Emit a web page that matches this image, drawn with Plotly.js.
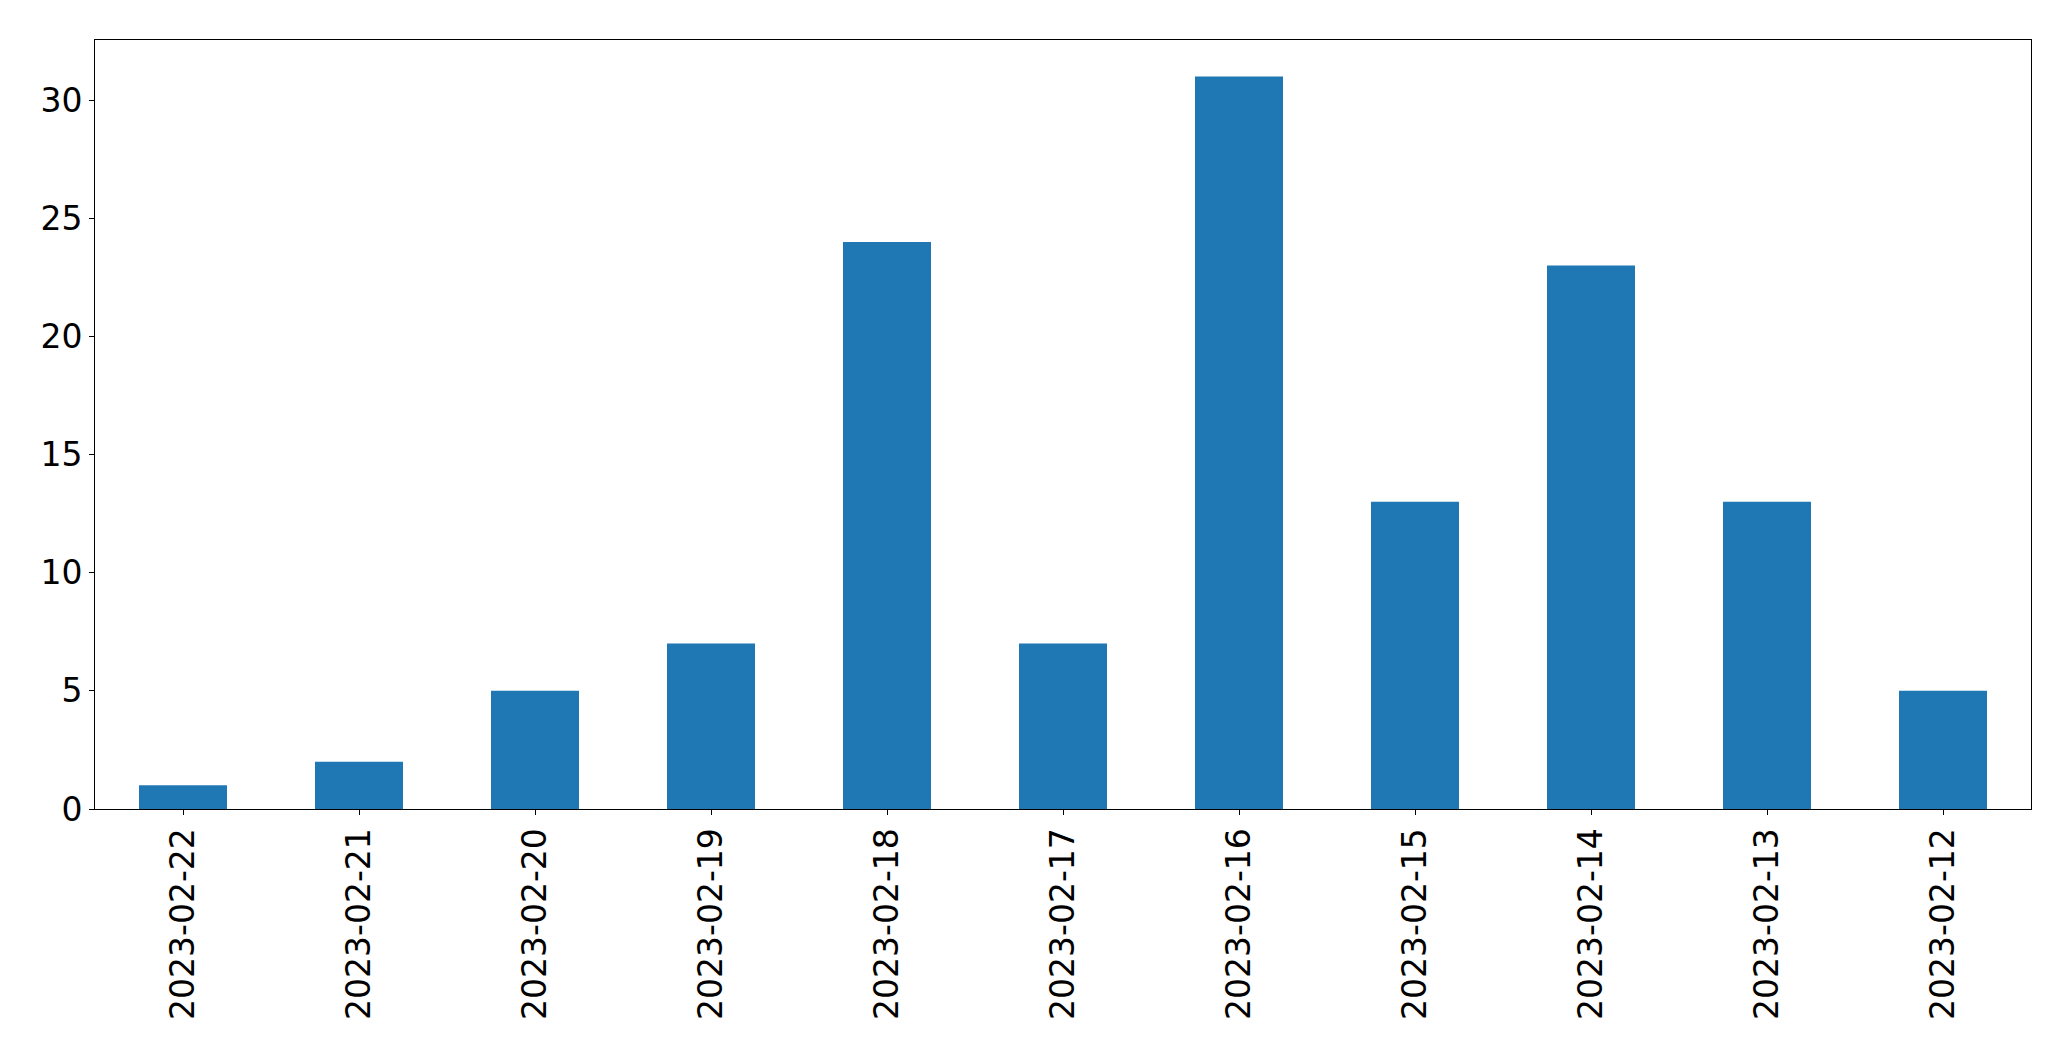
<!DOCTYPE html>
<html>
<head>
<meta charset="utf-8">
<script src="https://cdn.plot.ly/plotly-3.0.1.min.js"></script>
<style>html,body{margin:0;padding:0;background:#fff;}#chart{width:2071px;height:1061px;}</style>
</head>
<body>
<div id="chart"></div>
<script>
const dates = ["2023-02-22","2023-02-21","2023-02-20","2023-02-19","2023-02-18","2023-02-17","2023-02-16","2023-02-15","2023-02-14","2023-02-13","2023-02-12"];
const counts = [1, 2, 5, 7, 24, 7, 31, 13, 23, 13, 5];
const yTicks = [0, 5, 10, 15, 20, 25, 30];

const trace = {
  type: 'bar',
  x: dates,
  y: counts,
  width: 0.5,
  marker: {color: '#1f77b4', line: {width: 0}},
  hoverinfo: 'x+y'
};

const layout = {
  width: 2071, height: 1061,
  margin: {l: 94.5, r: 39.5, t: 39.5, b: 252},
  paper_bgcolor: '#fff', plot_bgcolor: '#fff',
  font: {family: 'DejaVu Sans', size: 33, color: '#000'},
  showlegend: false,
  bargap: 0.5,
  xaxis: {
    type: 'category',
    range: [-0.5, 10.5],
    tickangle: -90,
    ticks: 'outside', ticklen: 5, tickwidth: 1, tickcolor: '#000',
    showline: true, linecolor: '#000', linewidth: 1, mirror: true,
    showgrid: false, zeroline: false,
    tickfont: {family: 'DejaVu Sans', size: 33, color: '#000'}
  },
  yaxis: {
    range: [0, 32.55],
    tickvals: yTicks,
    ticktext: yTicks.map(String),
    ticks: 'outside', ticklen: 5, tickwidth: 1, tickcolor: '#000',
    showline: true, linecolor: '#000', linewidth: 1, mirror: true,
    showgrid: false, zeroline: false,
    tickfont: {family: 'DejaVu Sans', size: 33, color: '#000'}
  }
};

Plotly.newPlot('chart', [trace], layout, {displayModeBar: false, staticPlot: true});
</script>
</body>
</html>
